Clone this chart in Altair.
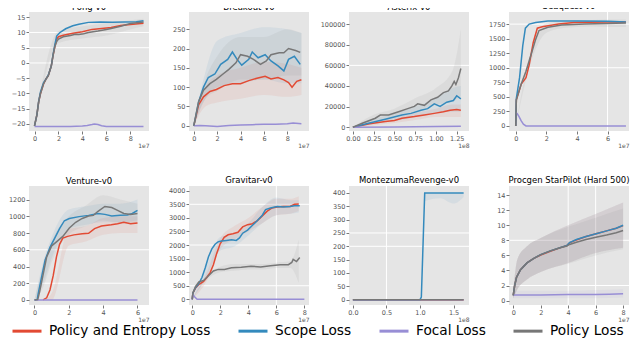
import altair as alt
import pandas as pd

SERIES = ["Policy and Entropy Loss", "Scope Loss", "Focal Loss", "Policy Loss"]
COLORS = ["#E24A33", "#348ABD", "#988ED5", "#777777"]

# ---------------- Pong-v0 (x in 1e7 steps) ----------------
pong_pe = ([0, 0.2, 0.35, 0.5, 0.75, 1.0, 1.15, 1.4, 1.55, 1.7, 1.85, 2.0, 2.4, 3.2, 4.0, 4.8, 5.6, 6.4, 7.2, 8.0, 9.1],
           [-20.6, -17, -12.7, -10, -6.9, -5, -4.2, -1, 2.5, 5.4, 7.8, 8.6, 9.1, 9.7, 10.2, 11.0, 11.3, 11.6, 12.3, 12.6, 13.0])
pong_sc = ([0, 0.2, 0.35, 0.5, 0.75, 1.0, 1.15, 1.4, 1.55, 1.7, 1.85, 2.1, 2.6, 3.2, 3.7, 4.5, 5.5, 6.5, 7.5, 8.5, 9.1],
           [-20.6, -17, -12.5, -9.5, -6.5, -5, -4, -1, 2.8, 6, 8.8, 9.9, 11.2, 12.2, 12.7, 13.3, 13.4, 13.3, 13.4, 13.5, 13.8])
pong_fo = ([0, 1, 2, 3, 4, 4.4, 4.8, 5.0, 5.3, 5.6, 6, 7, 8, 9.1],
           [-20.8, -20.8, -20.8, -20.8, -20.7, -20.5, -20.2, -20.0, -20.2, -20.6, -20.8, -20.8, -20.8, -20.8])
pong_po = ([0, 0.2, 0.35, 0.5, 0.75, 1.0, 1.15, 1.4, 1.55, 1.7, 1.85, 2.0, 2.4, 3.0, 3.4, 3.7, 4.1, 4.5, 5.3, 6.0, 6.4, 7.2, 8.0, 9.1],
           [-20.6, -17, -12.7, -10, -6.9, -5, -4.2, -1, 2.5, 5.4, 7.0, 7.8, 8.6, 9.0, 9.4, 9.3, 9.6, 10.0, 10.5, 11.0, 11.3, 12.0, 12.9, 13.4])
pong_band_x = [0, 2, 4, 6, 8, 9.1]
pong_po_lo = [-21, 6.5, 8.0, 9.0, 11.0, 12.0]
pong_po_hi = [-20, 10.5, 12.0, 13.0, 14.0, 14.5]

# ---------------- Breakout-v0 (1e7) ----------------
brk_pe = ([0, 0.41, 0.83, 1.38, 1.93, 2.6, 3.3, 4.0, 4.7, 5.4, 6.1, 6.6, 7.2, 7.7, 8.1, 8.4, 8.8, 9.2],
          [0, 54, 75, 89, 94, 104, 109, 109, 117, 123, 128, 121, 125, 119, 112, 100, 115, 119])
brk_sc = ([0, 0.41, 0.83, 1.24, 1.8, 2.3, 2.9, 3.3, 3.7, 4.1, 4.7, 5.0, 5.5, 6.1, 6.6, 7.2, 7.7, 8.1, 8.6, 9.1],
          [0, 62, 100, 125, 134, 159, 172, 191, 172, 157, 172, 191, 176, 184, 168, 155, 142, 172, 180, 159])
brk_fo = ([0, 0.5, 1, 2, 3, 4, 5, 6, 7, 8, 8.5, 9.2],
          [0, 1, 0, -2, 1, 2, 3, 4, 4, 5, 7, 5])
brk_po = ([0, 0.41, 0.83, 1.38, 1.93, 2.5, 3.0, 3.6, 4.0, 4.6, 5.1, 5.7, 6.2, 6.6, 7.3, 7.7, 8.1, 8.7, 9.1],
          [0, 62, 92, 109, 120, 134, 146, 163, 184, 180, 172, 159, 168, 184, 189, 189, 200, 195, 190])
brk_band_x = [0, 1, 2, 4, 6, 8, 9.2]
brk_pe_lo = [0, 50, 60, 70, 80, 75, 80]
brk_pe_hi = [0, 100, 130, 150, 165, 160, 150]
brk_sc_lo = [0, 70, 100, 110, 120, 110, 110]
brk_sc_hi = [0, 140, 220, 240, 255, 250, 240]
brk_po_lo = [0, 70, 90, 120, 120, 130, 130]
brk_po_hi = [0, 120, 180, 230, 230, 250, 240]

# ---------------- Asterix-v0 (1e8) ----------------
ast_pe = ([0, 0.2, 0.39, 0.5, 0.59, 0.74, 0.86, 0.98, 1.09, 1.17, 1.25, 1.30],
          [0, 3400, 5600, 6500, 8700, 10300, 11800, 13400, 15000, 16500, 17100, 16500])
ast_sc = ([0, 0.2, 0.39, 0.59, 0.7, 0.82, 0.9, 0.98, 1.05, 1.13, 1.21, 1.25, 1.30],
          [0, 4000, 7800, 11800, 13400, 16500, 18000, 22700, 20200, 24300, 25900, 30500, 27400])
ast_fo = ([0, 0.5, 1.0, 1.3],
          [0, 300, 600, 1000])
ast_po = ([0, 0.12, 0.27, 0.33, 0.43, 0.55, 0.66, 0.74, 0.78, 0.86, 0.94, 1.02, 1.09, 1.15, 1.19, 1.22, 1.24, 1.27, 1.30],
          [0, 4000, 8700, 11800, 11800, 15000, 18000, 20200, 22700, 21200, 26500, 29000, 33600, 35200, 39900, 44500, 41400, 47700, 57000])
ast_band_x = [0, 0.25, 0.5, 0.75, 1.0, 1.2, 1.3]
ast_pe_lo = [0, 2000, 4000, 7000, 10000, 10000, 10000]
ast_pe_hi = [0, 6000, 9000, 14000, 18000, 22000, 22000]
ast_sc_lo = [0, 3000, 6000, 10000, 14000, 15000, 15000]
ast_sc_hi = [0, 8000, 13000, 20000, 28000, 38000, 40000]
ast_po_lo = [0, 6000, 10000, 15000, 22000, 25000, 30000]
ast_po_hi = [0, 12000, 18000, 28000, 38000, 55000, 95000]

# ---------------- Seaquest-v0 (1e7) ----------------
sea_pe = ([0, 0.04, 0.36, 0.67, 0.88, 1.14, 1.41, 1.73, 2.8, 3.8, 5.9, 7.2],
          [0, 450, 720, 830, 1050, 1430, 1680, 1706, 1750, 1777, 1788, 1788])
sea_sc = ([0, 0.04, 0.25, 0.46, 0.63, 0.88, 1.3, 2.1, 4.0, 6.0, 7.2],
          [0, 475, 830, 1380, 1680, 1750, 1777, 1804, 1804, 1800, 1788])
sea_fo = ([0.02, 0.1, 0.2, 0.35, 0.5, 0.67, 1, 3, 5, 7.2],
          [230, 210, 170, 90, 30, 0, 0, 0, 0, 0])
sea_po = ([0, 0.04, 0.36, 0.67, 0.99, 1.3, 1.52, 2.1, 3.0, 4.5, 5.9, 7.2],
          [0, 450, 720, 940, 1214, 1487, 1640, 1695, 1733, 1750, 1760, 1771])
sea_band_x = [0, 1, 2, 3, 4, 5, 6, 7.2]
sea_po_lo = [0, 1100, 1600, 1680, 1700, 1710, 1700, 1700]
sea_po_hi = [0, 1300, 1760, 1790, 1810, 1820, 1830, 1830]

# ---------------- Venture-v0 (1e7) ----------------
ven_pe = ([0.5, 0.71, 0.9, 1.09, 1.28, 1.46, 1.65, 1.93, 2.3, 2.78, 3.15, 3.5, 3.9, 4.47, 4.84, 5.2, 5.6, 6.0],
          [0, 26, 120, 290, 515, 665, 740, 760, 778, 790, 797, 853, 883, 898, 910, 929, 910, 921])
ven_sc = ([0, 0.15, 0.24, 0.43, 0.62, 0.9, 1.18, 1.46, 1.74, 2.03, 2.6, 3.15, 3.7, 4.1, 4.5, 5.0, 5.4, 5.7, 6.0],
          [0, 5, 100, 290, 477, 628, 740, 853, 947, 974, 996, 1011, 1034, 1023, 1004, 1011, 1015, 1034, 1071])
ven_fo = ([0, 3, 6],
          [0, 0, 0])
ven_po = ([0, 0.19, 0.3, 0.49, 0.71, 1.0, 1.28, 1.65, 2.03, 2.4, 2.78, 3.15, 3.43, 3.7, 4.1, 4.5, 4.84, 5.2, 5.6, 6.0],
          [0, 5, 100, 290, 515, 647, 695, 760, 861, 929, 974, 1004, 1011, 1060, 1117, 1105, 1071, 1034, 1023, 1034])
ven_band_x = [0, 0.5, 1, 2, 3, 4, 5, 6]
ven_pe_lo = [0, 0, 0, 650, 700, 780, 800, 800]
ven_pe_hi = [0, 0, 80, 850, 880, 980, 1000, 1000]
ven_sc_lo = [0, 200, 500, 850, 900, 930, 930, 950]
ven_sc_hi = [0, 450, 750, 1080, 1120, 1150, 1150, 1200]
ven_po_lo = [0, 150, 450, 780, 880, 950, 920, 920]
ven_po_hi = [0, 400, 700, 1000, 1130, 1250, 1200, 1150]

# ---------------- Gravitar-v0 (1e7) ----------------
gra_pe = ([0, 0.05, 0.23, 0.47, 0.81, 1.05, 1.28, 1.51, 1.74, 1.98, 2.28, 2.56, 2.9, 3.26, 3.6, 3.95, 4.3, 4.65, 5.0, 5.35, 5.7, 6.05, 6.5, 6.98, 7.3, 7.6],
          [0, 232, 406, 545, 661, 812, 986, 1276, 1682, 2030, 2285, 2378, 2413, 2471, 2668, 2749, 2784, 2900, 3074, 3248, 3364, 3399, 3422, 3422, 3503, 3515])
gra_sc = ([0, 0.05, 0.23, 0.47, 0.7, 0.93, 1.16, 1.4, 1.63, 1.86, 2.1, 2.44, 2.8, 3.14, 3.37, 3.6, 3.95, 4.3, 4.65, 5.0, 5.23, 5.58, 6.05, 6.5, 6.98, 7.3, 7.67],
          [0, 232, 429, 580, 812, 1160, 1566, 1856, 2030, 2123, 2146, 2169, 2192, 2169, 2262, 2436, 2552, 2726, 2900, 3097, 3306, 3364, 3422, 3399, 3422, 3445, 3445])
gra_fo = ([0, 0.05, 0.2, 0.35, 1, 4, 8.0],
          [0, 170, 80, 0, 0, 0, 0])
gra_po = ([0, 0.05, 0.23, 0.47, 0.81, 1.16, 1.51, 1.86, 2.3, 2.8, 3.5, 4.19, 4.88, 5.58, 6.28, 6.86, 7.1, 7.2, 7.44, 7.67],
          [0, 232, 464, 638, 696, 870, 1044, 1102, 1102, 1160, 1183, 1218, 1195, 1241, 1276, 1276, 1357, 1473, 1392, 1543])
gra_band_x = [0, 1, 2, 3, 4, 5, 6, 7, 7.6]
gra_pe_lo = [0, 650, 1850, 2200, 2500, 2800, 3100, 3150, 3250]
gra_pe_hi = [0, 950, 2250, 2700, 3000, 3400, 3700, 3700, 3800]
gra_sc_lo = [0, 800, 1800, 1950, 2350, 2800, 3100, 3150, 3200]
gra_sc_hi = [0, 1200, 2300, 2400, 2800, 3400, 3750, 3650, 3650]
gra_po_lo = [0, 700, 1000, 1050, 1100, 1100, 1150, 1150, 600]
gra_po_hi = [0, 850, 1200, 1300, 1300, 1300, 1350, 1400, 2200]

# ---------------- MontezumaRevenge-v0 (1e8) ----------------
mon_pe = ([0, 1.65], [0, 0])
mon_sc = ([0, 1.0, 1.02, 1.07, 1.65], [0, 0, 10, 400, 400])
mon_fo = ([0, 1.65], [0, 0])
mon_po = ([0, 1.65], [0, 0])
mon_band_x = [1.07, 1.3, 1.5, 1.65]
mon_sc_lo = [370, 380, 360, 385]
mon_sc_hi = [400, 400, 400, 400]

# ---------------- Procgen StarPilot (1e7) ----------------
pro_x = [0, 0.1, 0.24, 0.53, 1.0, 1.5, 2.0, 2.7, 3.4, 3.9, 4.1, 4.6, 5.3, 6.1, 6.8, 7.5, 8.0]
pro_pe = (pro_x, [0.7, 2, 3.1, 4.1, 5.0, 5.6, 6.05, 6.55, 7.0, 7.3, 7.65, 8.05, 8.5, 8.9, 9.25, 9.6, 9.95])
pro_sc = (pro_x, [0.7, 2, 3.1, 4.1, 5.0, 5.6, 6.1, 6.6, 7.0, 7.3, 7.7, 8.1, 8.5, 8.9, 9.25, 9.6, 10.0])
pro_fo = ([0, 2, 4, 6, 7, 8], [0.75, 0.75, 0.8, 0.8, 0.85, 0.9])
pro_po = (pro_x, [0.7, 2, 3.1, 4.1, 5.0, 5.6, 6.1, 6.6, 7.0, 7.25, 7.45, 7.75, 8.1, 8.45, 8.7, 9.0, 9.3])
pro_band_x = [0, 0.3, 1, 2, 4, 6, 8]
pro_pe_lo = [0.3, 1.5, 2.8, 3.8, 5.0, 6.3, 7.0]
pro_pe_hi = [1.5, 5.5, 7.2, 8.3, 10.0, 11.5, 13.0]
pro_sc_lo = [0.3, 1.5, 2.8, 3.8, 5.0, 6.3, 7.0]
pro_sc_hi = [1.5, 5.5, 7.2, 8.3, 10.0, 11.5, 13.0]
pro_fo_lo = [0.3, 0.3, 0.3, 0.3, 0.3, 0.3, 0.4]
pro_fo_hi = [1.3, 1.3, 1.3, 1.3, 1.3, 1.4, 1.5]
pro_po_lo = [0.3, 1.5, 2.8, 3.8, 4.9, 6.0, 6.8]
pro_po_hi = [1.5, 5.5, 7.2, 8.3, 9.8, 11.0, 12.2]

W, H = 120, 119

legend = alt.Legend(
    orient="none", legendX=-18, legendY=303, direction="horizontal", title=None,
    symbolType="stroke", symbolSize=841, symbolStrokeWidth=3, labelFontSize=13.7,
    labelFont="DejaVu Sans", labelColor="black", labelOffset=6, columnPadding=21,
    labelLimit=400, padding=0,
)
color_scale = alt.Scale(domain=SERIES, range=COLORS)


def panel(title, lines, xdom, ydom, xticks, yticks, xfmt, offset, hgrid, vgrid, bands=None):
    xsc = alt.Scale(domain=xdom, nice=False, zero=False)
    ysc = alt.Scale(domain=ydom, nice=False, zero=False)
    xax = alt.Axis(values=xticks, format=xfmt, title=offset)
    yax = alt.Axis(values=yticks, format="d", title=None)
    layers = []
    if hgrid:
        layers.append(alt.Chart(pd.DataFrame({"y": hgrid})).mark_rule(color="white", strokeWidth=1)
                      .encode(y=alt.Y("y:Q", scale=ysc, axis=yax)))
    if vgrid:
        layers.append(alt.Chart(pd.DataFrame({"x": vgrid})).mark_rule(color="white", strokeWidth=1)
                      .encode(x=alt.X("x:Q", scale=xsc, axis=xax)))
    if bands:
        bx = bands[0]
        for col, lo_hi in zip(COLORS, bands[1:]):
            if lo_hi is None:
                continue
            lo, hi = lo_hi
            bdf = pd.DataFrame({"x": bx, "lo": lo, "hi": hi})
            layers.append(
                alt.Chart(bdf).mark_area(fill=col, opacity=0.09, clip=True, interpolate="monotone").encode(
                    x=alt.X("x:Q", scale=xsc, axis=xax),
                    y=alt.Y("lo:Q", scale=ysc, axis=yax),
                    y2="hi:Q",
                )
            )
    for name, (xs, ys) in zip(SERIES, lines):
        df = pd.DataFrame({"x": xs, "y": ys, "series": name})
        layers.append(
            alt.Chart(df).mark_line(strokeWidth=1.5, clip=True).encode(
                x=alt.X("x:Q", scale=xsc, axis=xax),
                y=alt.Y("y:Q", scale=ysc, axis=yax),
                color=alt.Color("series:N", scale=color_scale, legend=legend),
            )
        )
    return alt.layer(*layers).properties(width=W, height=H, title=title)


panels = [
    panel("Pong-v0", [pong_pe, pong_sc, pong_fo, pong_po], [-0.46, 9.56], [-22.3, 16.7],
          [0, 2, 4, 6, 8], [-20, -15, -10, -5, 0, 5, 10, 15], "d", "1e7", [10, 5, 0], [],
          [pong_band_x, None, None, None, (pong_po_lo, pong_po_hi)]),
    panel("Breakout-v0", [brk_pe, brk_sc, brk_fo, brk_po], [-0.41, 9.85], [-13.5, 294.6],
          [0, 2, 4, 6, 8], [0, 50, 100, 150, 200, 250], "d", "1e7", [], [],
          [brk_band_x, (brk_pe_lo, brk_pe_hi), (brk_sc_lo, brk_sc_hi), None, (brk_po_lo, brk_po_hi)]),
    panel("Asterix-v0", [ast_pe, ast_sc, ast_fo, ast_po], [-0.047, 1.398], [-3700, 111800],
          [0, 0.25, 0.5, 0.75, 1.0, 1.25], [0, 20000, 40000, 60000, 80000, 100000], ".2f", "1e8", [60000], [],
          [ast_band_x, (ast_pe_lo, ast_pe_hi), (ast_sc_lo, ast_sc_hi), None, (ast_po_lo, ast_po_hi)]),
    panel("Seaquest-v0", [sea_pe, sea_sc, sea_fo, sea_po], [-0.44, 7.4], [-87, 1958],
          [0, 2, 4, 6], [0, 250, 500, 750, 1000, 1250, 1500, 1750], "d", "1e7", [1750, 1000], [6],
          [sea_band_x, None, None, None, (sea_po_lo, sea_po_hi)]),
    panel("Venture-v0", [ven_pe, ven_sc, ven_fo, ven_po], [-0.32, 6.67], [-60, 1362],
          [0, 2, 4, 6], [0, 200, 400, 600, 800, 1000, 1200], "d", "1e7", [600, 200], [],
          [ven_band_x, (ven_pe_lo, ven_pe_hi), (ven_sc_lo, ven_sc_hi), None, (ven_po_lo, ven_po_hi)]),
    panel("Gravitar-v0", [gra_pe, gra_sc, gra_fo, gra_po], [-0.23, 8.33], [-209, 4174],
          [0, 2, 4, 6, 8], [0, 500, 1000, 1500, 2000, 2500, 3000, 3500, 4000], "d", "1e7", [3500, 2000, 500], [6],
          [gra_band_x, (gra_pe_lo, gra_pe_hi), (gra_sc_lo, gra_sc_hi), None, (gra_po_lo, gra_po_hi)]),
    panel("MontezumaRevenge-v0", [mon_pe, mon_sc, mon_fo, mon_po], [-0.058, 1.73], [-20, 426],
          [0, 0.5, 1.0, 1.5], [0, 50, 100, 150, 200, 250, 300, 350, 400], ".1f", "1e8", [250, 200], [0.5],
          [mon_band_x, None, (mon_sc_lo, mon_sc_hi), None, None]),
    panel("Procgen StarPilot (Hard 500)", [pro_pe, pro_sc, pro_fo, pro_po], [-0.31, 8.43], [-0.58, 15.2],
          [0, 2, 4, 6, 8], [0, 2, 4, 6, 8, 10, 12, 14], "d", "1e7", [8, 2], [4, 6],
          [pro_band_x, (pro_pe_lo, pro_pe_hi), (pro_sc_lo, pro_sc_hi), (pro_fo_lo, pro_fo_hi), (pro_po_lo, pro_po_hi)]),
]

chart = (
    alt.concat(*panels, columns=4, spacing={"row": 55, "column": 40}, bounds="flush")
    .properties(padding={"left": 0, "top": -6, "right": 0, "bottom": 0})
    .configure_view(fill="#E5E5E5", strokeWidth=0)
    .configure_axis(
        labelFont="DejaVu Sans", labelFontSize=6.5, labelColor="#555555",
        tickColor="#555555", tickSize=3, tickWidth=0.8, domain=False, grid=False,
        labelPadding=1, titleFont="DejaVu Sans", titleFontSize=6, titleFontWeight="normal",
        titleColor="#555555", titlePadding=1,
    )
    .configure_axisX(titleAnchor="end")
    .configure_title(font="DejaVu Sans", fontSize=8.5, fontWeight="normal", color="black", offset=1)
)

chart.save("out.html", embed_options={"renderer": "svg", "actions": False})
